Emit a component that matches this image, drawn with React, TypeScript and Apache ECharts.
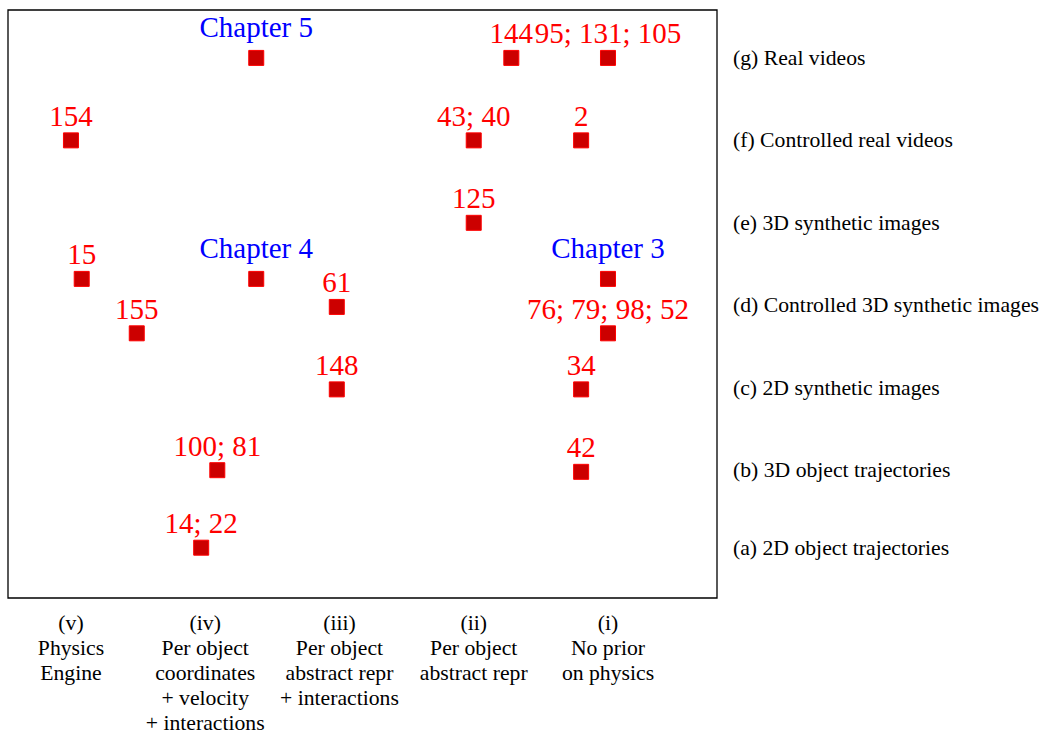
import React, { useEffect, useRef } from "react";
import * as echarts from "echarts";

// Columns (x, left to right) and rows (y, bottom to top)
const columnLabels = [
  "(v)\nPhysics\nEngine",
  "(iv)\nPer object\ncoordinates\n+ velocity\n+ interactions",
  "(iii)\nPer object\nabstract repr\n+ interactions",
  "(ii)\nPer object\nabstract repr",
  "(i)\nNo prior\non physics",
];
const rowLabels = [
  "(a) 2D object trajectories",
  "(b) 3D object trajectories",
  "(c) 2D synthetic images",
  "(d) Controlled 3D synthetic images",
  "(e) 3D synthetic images",
  "(f) Controlled real videos",
  "(g) Real videos",
];

// Referenced works (x in column units, y in row units)
const paperLabels = [
  "154", "15", "155", "100; 81", "14; 22", "61", "148",
  "43; 40", "125", "144", "95; 131; 105", "2", "76; 79; 98; 52", "34", "42",
];
const paperX = [0, 0.08, 0.49, 1.09, 0.97, 1.98, 1.98, 3, 3, 3.28, 4, 3.8, 4, 3.8, 3.8];
const paperY = [5, 3.32, 2.66, 1, 0.06, 2.98, 1.98, 5, 4, 6, 6, 5, 2.66, 1.98, 0.98];

// Chapters of the thesis
const chapterLabels = ["Chapter 5", "Chapter 4", "Chapter 3"];
const chapterX = [1.38, 1.38, 4];
const chapterY = [6, 3.32, 3.32];

const SERIF = "Times New Roman, Liberation Serif, DejaVu Serif, serif";

export default function App() {
  const ref = useRef<HTMLDivElement>(null);
  useEffect(() => {
    if (!ref.current) return;
    const chart = echarts.init(ref.current, null, { renderer: "svg" });
    const squareStyle = { color: "#cc0000", borderColor: "#ff0000", borderWidth: 1, opacity: 1 };
    chart.setOption({
      animation: false,
      textStyle: { fontFamily: SERIF },
      grid: {
        left: 8,
        top: 10,
        width: 709,
        height: 589,
        show: true,
        borderColor: "#000",
        borderWidth: 1.3,
        backgroundColor: "#fff",
      },
      xAxis: {
        type: "value",
        min: -0.469,
        max: 4.812,
        axisLine: { show: false },
        axisTick: { show: false },
        splitLine: { show: false },
        axisLabel: {
          customValues: [0, 1, 2, 3, 4],
          formatter: (v: number) => columnLabels[Math.round(v)] ?? "",
          fontFamily: SERIF,
          fontSize: 21.7,
          lineHeight: 25,
          color: "#000",
          margin: 12,
          align: "center",
          verticalAlign: "top",
        },
      },
      yAxis: {
        type: "value",
        position: "right",
        min: -0.55,
        max: 6.581,
        axisLine: { show: false },
        axisTick: { show: false },
        splitLine: { show: false },
        axisLabel: {
          customValues: [0.06, 1, 2, 3, 4, 5, 6],
          formatter: (v: number) => rowLabels[Math.round(v)] ?? "",
          fontFamily: SERIF,
          fontSize: 21.7,
          color: "#000",
          margin: 16,
          align: "left",
        },
      },
      series: [
        {
          type: "scatter",
          symbol: "rect",
          symbolSize: 15,
          itemStyle: squareStyle,
          data: paperX.map((x, i) => ({ value: [x, paperY[i]], name: paperLabels[i] })),
          label: {
            show: true,
            position: "top",
            distance: 2,
            formatter: (p: any) => p.name,
            color: "#ff0000",
            fontFamily: SERIF,
            fontSize: 29,
          },
        },
        {
          type: "scatter",
          symbol: "rect",
          symbolSize: 15,
          itemStyle: squareStyle,
          data: chapterX.map((x, i) => ({ value: [x, chapterY[i]], name: chapterLabels[i] })),
          label: {
            show: true,
            position: "top",
            distance: 8,
            formatter: (p: any) => p.name,
            color: "#0000ff",
            fontFamily: SERIF,
            fontSize: 29,
          },
        },
      ],
    });
    return () => chart.dispose();
  }, []);
  return (
    <div
      ref={ref}
      style={{ position: "absolute", left: 0, top: 0, width: 1046, height: 735, background: "#fff" }}
    />
  );
}
